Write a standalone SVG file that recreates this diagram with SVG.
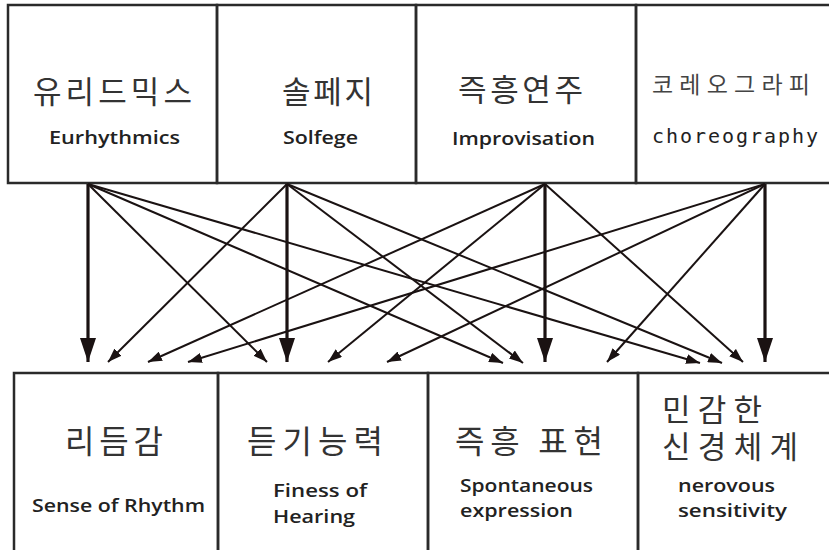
<svg xmlns="http://www.w3.org/2000/svg" width="829" height="550" viewBox="0 0 829 550">
<style>
.box{fill:none;stroke:#2a2a2a;stroke-width:2.5}
.ko{font-family:"Noto Sans CJK KR","Noto Sans",sans-serif;fill:#333;font-size:31px}
.en{font-family:"Open Sans","Noto Sans",sans-serif;font-weight:600;fill:#222;font-size:18px}
.mono{font-family:"DejaVu Sans Mono","Liberation Mono",monospace;fill:#222;font-size:20px}
.v{stroke:#1a1212;stroke-width:3.2;fill:none}
.d{stroke:#1a1212;stroke-width:2;fill:none}
</style>
<defs>
<marker id="big" markerUnits="userSpaceOnUse" markerWidth="25" markerHeight="16" refX="24" refY="8" orient="auto" viewBox="0 0 25 16">
<path d="M0,0 L24,8 L0,16 z" fill="#1a1212"/>
</marker>
<marker id="sm" markerUnits="userSpaceOnUse" markerWidth="15" markerHeight="10" refX="14" refY="5" orient="auto" viewBox="0 0 15 10">
<path d="M0,0 L14,5 L0,10 z" fill="#1a1212"/>
</marker>
</defs>
<rect width="829" height="550" fill="#fff"/>

<g id="top-eurhythmics">
<rect class="box" x="8" y="5" width="209" height="178"/>
<text class="ko" x="33" y="103" textLength="159" lengthAdjust="spacing">유리드믹스</text>
<text class="en" x="49" y="144" textLength="131" lengthAdjust="spacingAndGlyphs">Eurhythmics</text>
</g>
<g id="top-solfege">
<rect class="box" x="217" y="5" width="199" height="178"/>
<text class="ko" x="282" y="103" textLength="91" lengthAdjust="spacing">솔페지</text>
<text class="en" x="283" y="144" textLength="75" lengthAdjust="spacingAndGlyphs">Solfege</text>
</g>
<g id="top-improvisation">
<rect class="box" x="416" y="5" width="220" height="178"/>
<text class="ko" x="458" y="101" textLength="125" lengthAdjust="spacing">즉흥연주</text>
<text class="en" x="452" y="145" textLength="143" lengthAdjust="spacingAndGlyphs">Improvisation</text>
</g>
<g id="top-choreography">
<rect class="box" x="636" y="5" width="200" height="178"/>
<text class="ko" x="652" y="93" style="font-size:23px;fill:#444" textLength="158" lengthAdjust="spacing">코레오그라피</text>
<text class="mono" x="652" y="143" textLength="166" lengthAdjust="spacing">choreography</text>
</g>

<g id="bottom-rhythm">
<rect class="box" x="14" y="373" width="204" height="180"/>
<text class="ko" x="65" y="453" style="font-size:32px" textLength="98" lengthAdjust="spacing">리듬감</text>
<text class="en" x="32" y="512" textLength="173" lengthAdjust="spacingAndGlyphs">Sense of Rhythm</text>
</g>
<g id="bottom-hearing">
<rect class="box" x="218" y="373" width="210" height="180"/>
<text class="ko" x="247" y="453" style="font-size:32px" textLength="136" lengthAdjust="spacing">듣기능력</text>
<text class="en" x="273" y="497" textLength="94" lengthAdjust="spacingAndGlyphs">Finess of</text>
<text class="en" x="273" y="523" textLength="82" lengthAdjust="spacingAndGlyphs">Hearing</text>
</g>
<g id="bottom-spontaneous">
<rect class="box" x="428" y="373" width="210" height="180"/>
<text class="ko" x="455" y="453" style="font-size:32px" textLength="148" lengthAdjust="spacing">즉흥 표현</text>
<text class="en" x="460" y="492" textLength="133" lengthAdjust="spacingAndGlyphs">Spontaneous</text>
<text class="en" x="460" y="517" textLength="113" lengthAdjust="spacingAndGlyphs">expression</text>
</g>
<g id="bottom-nervous">
<rect class="box" x="638" y="373" width="200" height="180"/>
<text class="ko" x="662" y="421" style="font-size:31px" textLength="100" lengthAdjust="spacing">민감한</text>
<text class="ko" x="662" y="458" style="font-size:31px" textLength="136" lengthAdjust="spacing">신경체계</text>
<text class="en" x="678" y="492" textLength="97" lengthAdjust="spacingAndGlyphs">nerovous</text>
<text class="en" x="678" y="517" textLength="109" lengthAdjust="spacingAndGlyphs">sensitivity</text>
</g>

<g id="connectors">
<line class="v" x1="88" y1="184" x2="88" y2="362" marker-end="url(#big)"/>
<line class="d" x1="88" y1="184" x2="267" y2="362" marker-end="url(#sm)"/>
<line class="d" x1="88" y1="184" x2="503" y2="363" marker-end="url(#sm)"/>
<line class="d" x1="88" y1="184" x2="700" y2="363" marker-end="url(#sm)"/>

<line class="d" x1="287" y1="184" x2="108" y2="362" marker-end="url(#sm)"/>
<line class="v" x1="287" y1="184" x2="287" y2="362" marker-end="url(#big)"/>
<line class="d" x1="287" y1="184" x2="523" y2="363" marker-end="url(#sm)"/>
<line class="d" x1="287" y1="184" x2="722" y2="363" marker-end="url(#sm)"/>

<line class="d" x1="545" y1="184" x2="148" y2="362" marker-end="url(#sm)"/>
<line class="d" x1="545" y1="184" x2="328" y2="362" marker-end="url(#sm)"/>
<line class="v" x1="545" y1="184" x2="545" y2="362" marker-end="url(#big)"/>
<line class="d" x1="545" y1="184" x2="743" y2="362" marker-end="url(#sm)"/>

<line class="d" x1="765" y1="184" x2="188" y2="362" marker-end="url(#sm)"/>
<line class="d" x1="765" y1="184" x2="387" y2="362" marker-end="url(#sm)"/>
<line class="d" x1="765" y1="184" x2="607" y2="362" marker-end="url(#sm)"/>
<line class="v" x1="765" y1="184" x2="765" y2="362" marker-end="url(#big)"/>
</g>
</svg>
